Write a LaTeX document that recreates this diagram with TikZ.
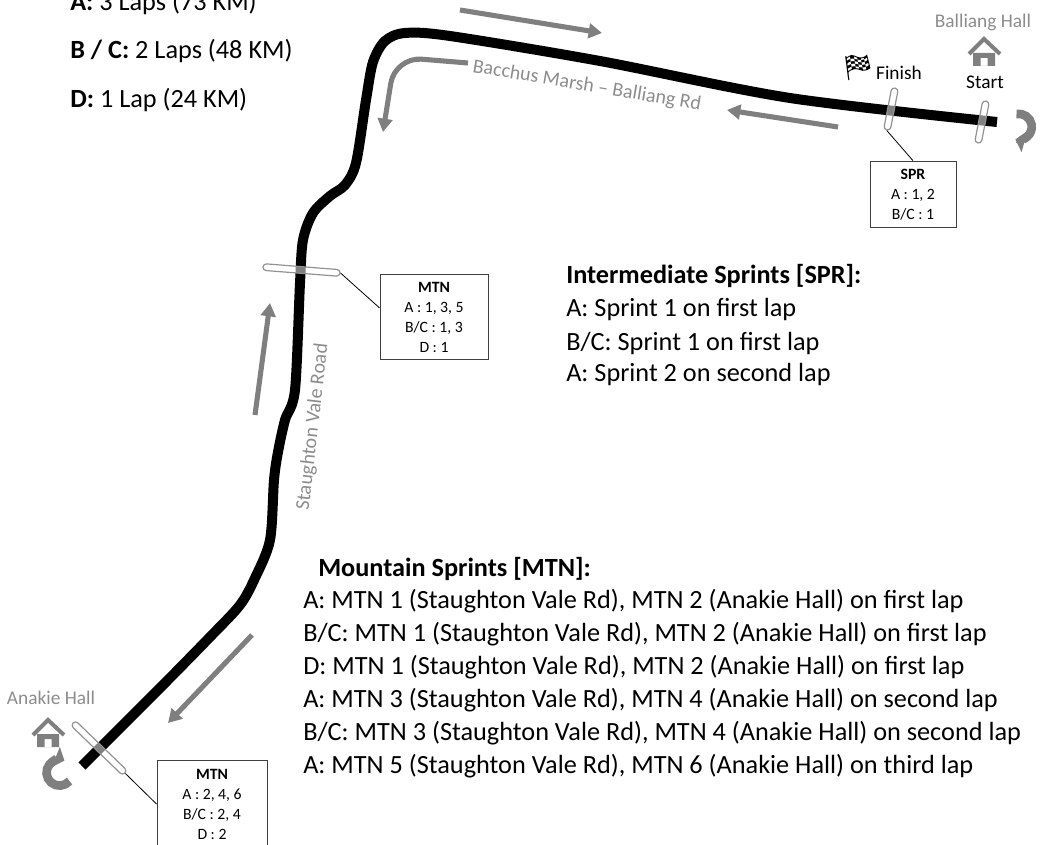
\documentclass[tikz,border=0pt]{standalone}
\usepackage{fontspec}
\setmainfont{Carlito}
\newfontfamily\emojifont{Noto Emoji}
\usetikzlibrary{arrows.meta}
\definecolor{roadgrey}{RGB}{127,127,127}
\definecolor{labelgrey}{RGB}{140,140,140}
\definecolor{boxgrey}{RGB}{64,64,64}
\newcommand{\bigtxt}[0] {\fontsize{19.7}{24}\selectfont}
\newcommand{\boxtxt}[0] {\fontsize{11.8}{15}\selectfont}
\newcommand{\roadtxt}[0] {\fontsize{15}{18}\selectfont}
\newcommand{\smalltxt}[0] {\fontsize{14.5}{17}\selectfont}
\tikzset{
    info/.style={anchor=base west, inner sep=0, font=\bigtxt},
    direction/.style={draw=roadgrey, line width=3.8pt, -{Triangle[length=10pt,width=11pt]}},
    uturn/.style={draw=roadgrey, line width=6.5pt, -{Triangle[length=7pt,width=16pt]}},
    hatch/.style={draw=roadgrey!85, line width=0.9pt, fill=white, fill opacity=0.5, minimum height=5pt, inner sep=0, rounded corners=2.5pt},
    tally/.style={draw=boxgrey, line width=0.75pt, align=center, font=\boxtxt, inner sep=0},
    hallicon/.pic={
        \draw[roadgrey, line width=3pt] (-15,18) -- (0,3) -- (16,18);
        \fill[roadgrey, even odd rule] (-11,17) rectangle (11,30) (-3.5,22) rectangle (3.5,30);
    }
}

\begin{document}
\begin{tikzpicture}[x=0.75pt, y=-0.75pt]
        \useasboundingbox (0,0) rectangle (1051,845);
        %laps per grade
        \node[info] (lapa) at (70,11)     {\textbf{A:} 3 Laps (73 KM)};
        \node[info] (lapbc) at (70,59)    {\textbf{B / C:} 2 Laps (48 KM)};
        \node[info] (lapd) at (70,108)    {\textbf{D:} 1 Lap (24 KM)};
        %the road
        \draw[line width=7.5pt] plot[smooth, tension=0.5] coordinates {
            (82,766) (160,688) (210,637) (240,605) (255,578) (270,540) (274,480)
            (278,452) (285,420) (295,390) (300,283) (303,240) (313,213) (330,196)
            (345,185) (356,163) (366,100) (373,62) (385,41) (405,33) (450,36)
            (600,61) (790,98) (997,122)};
        %road names
        \node[font=\roadtxt, text=labelgrey, rotate=-9.5] (bacchus) at (587,86)     {Bacchus Marsh -- Balliang Rd};
        \node[font=\roadtxt, text=labelgrey, rotate=83.5] (staughton) at (313,427)  {Staughton Vale Road};
        %direction of travel
        \coordinate (outa) at (460,10);
        \coordinate (outb) at (602,33);
        \coordinate (backa) at (838,127);
        \coordinate (backb) at (727,110);
        \coordinate (turna) at (468,63);
        \coordinate (turnb) at (395,57);
        \coordinate (turnc) at (383,132);
        \coordinate (climba) at (255,415);
        \coordinate (climbb) at (270,303);
        \coordinate (downa) at (252,635);
        \coordinate (downb) at (168,723);
        \draw[direction] (outa) -- (outb);
        \draw[direction] (backa) -- (backb);
        \draw[direction, rounded corners=20pt] (turna) -- (turnb) -- (turnc);
        \draw[direction] (climba) -- (climbb);
        \draw[direction] (downa) -- (downb);
        %turn arounds
        \coordinate (startturn) at (1016.5,114);
        \coordinate (anakieturn) at (69.5,781);
        \draw[uturn] (startturn) arc[start angle=-100, end angle=105, radius=13];
        \draw[uturn] (anakieturn) arc[start angle=40, end angle=292, radius=13];
        %halls
        \pic at (984,36) {hallicon};
        \pic at (48,717) {hallicon};
        \node[font=\smalltxt, text=labelgrey] (balliang) at (983,22)   {Balliang Hall};
        \node[font=\smalltxt, text=labelgrey] (anakie) at (51,698)     {Anakie Hall};
        %start and finish
        \node[font=\smalltxt] (start) at (985,82)     {Start};
        \node[font=\smalltxt] (finish) at (899,73)    {Finish};
        \node[font=\emojifont\fontsize{19}{19}\selectfont, inner sep=0] (flag) at (858,68)    {🏁};
        %lines across the road
        \node[hatch, minimum width=32pt, rotate=79] (finishline) at (891,109)     {};
        \node[hatch, minimum width=32pt, rotate=79] (startline) at (982,122)      {};
        \node[hatch, minimum width=58pt, rotate=-4.5] (mtnline) at (301.5,270)    {};
        \node[hatch, minimum width=54pt, rotate=-44] (anakieline) at (99,748)     {};
        %sprint boxes
        \node[tally, minimum width=64.5pt, minimum height=50pt] (sprbox) at (913,194.5)     {\textbf{SPR}\\A : 1, 2\\B/C : 1};
        \node[tally, minimum width=81pt, minimum height=63.75pt] (mtnbox) at (434,317.5)    {\textbf{MTN}\\A : 1, 3, 5\\B/C : 1, 3\\D : 1};
        \node[tally, minimum width=82.5pt, minimum height=66pt] (mtnboxlow) at (212,804)    {\textbf{MTN}\\A : 2, 4, 6\\B/C : 2, 4\\D : 2};
        %connections between
        \path[-, line width=0.6pt] (finishline.west) edge (sprbox.north);
        \path[-, line width=0.6pt] (mtnline.east) edge (mtnbox.170);
        \path[-, line width=0.6pt] (anakieline.east) edge (mtnboxlow.west);
        %intermediate sprints
        \node[info] (sprhead) at (566,284)     {\textbf{Intermediate Sprints [SPR]:}};
        \node[info] (spra) at (566,317)        {A: Sprint 1 on first lap};
        \node[info] (sprbc) at (566,350)       {B/C: Sprint 1 on first lap};
        \node[info] (spra_2) at (566,382)      {A: Sprint 2 on second lap};
        %mountain sprints
        \node[info] (mtnhead) at (318,576)     {\textbf{Mountain Sprints [MTN]:}};
        \node[info] (mtna) at (303,608)        {A: MTN 1 (Staughton Vale Rd), MTN 2 (Anakie Hall) on first lap};
        \node[info] (mtnbc) at (303,641)       {B/C: MTN 1 (Staughton Vale Rd), MTN 2 (Anakie Hall) on first lap};
        \node[info] (mtnd) at (303,674)        {D: MTN 1 (Staughton Vale Rd), MTN 2 (Anakie Hall) on first lap};
        \node[info] (mtna_2) at (303,707)      {A: MTN 3 (Staughton Vale Rd), MTN 4 (Anakie Hall) on second lap};
        \node[info] (mtnbc_2) at (303,740)     {B/C: MTN 3 (Staughton Vale Rd), MTN 4 (Anakie Hall) on second lap};
        \node[info] (mtna_3) at (303,773)      {A: MTN 5 (Staughton Vale Rd), MTN 6 (Anakie Hall) on third lap};
\end{tikzpicture}
\end{document}
